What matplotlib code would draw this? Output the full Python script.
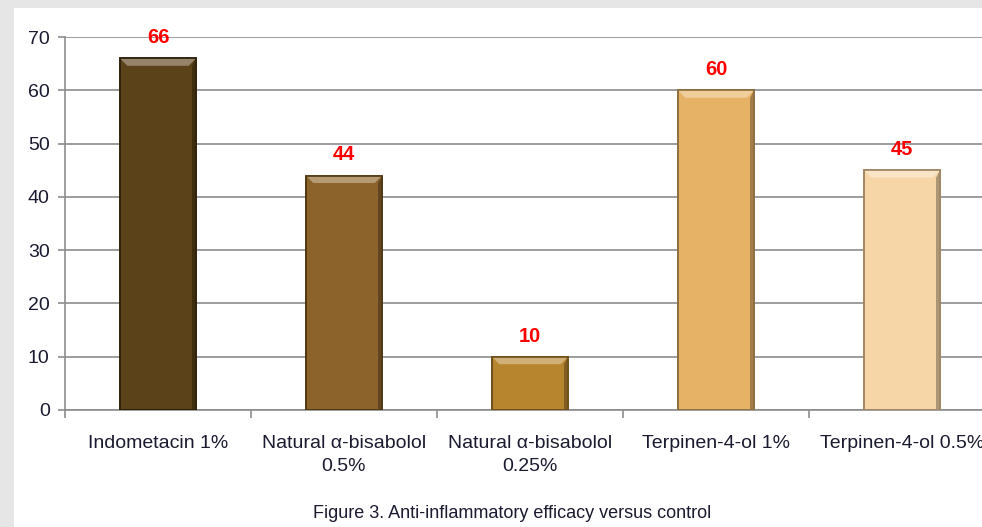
import matplotlib
matplotlib.use("Agg")
import matplotlib.pyplot as plt
from matplotlib.patches import Rectangle, Polygon
import matplotlib.colors as mcolors

categories = ["Indometacin 1%", "Natural α-bisabolol\n0.5%", "Natural α-bisabolol\n0.25%",
              "Terpinen-4-ol 1%", "Terpinen-4-ol 0.5%"]
values = [66, 44, 10, 60, 45]
colors = ["#5C4219", "#8C632B", "#B8852F", "#E6B366", "#F6D6A6"]
edges = ["#2E210B", "#4E3812", "#6E4E1A", "#8E6E40", "#A08664"]
yticks = [0, 10, 20, 30, 40, 50, 60, 70]
caption = "Figure 3. Anti-inflammatory efficacy versus control"

plt.rcParams['font.family'] = ['Liberation Sans', 'DejaVu Sans']

fig = plt.figure(figsize=(9.82, 5.27), dpi=100, facecolor="#E6E6E6")
fig.patches.append(Rectangle((14/982, 0), 1, (527-8)/527, transform=fig.transFigure,
                             facecolor="white", edgecolor="none", zorder=-10))

ax = fig.add_axes([65/982, 117/527, 930/982, (490-117)/527])
ax.set_zorder(1)
ax.set_facecolor("none")
x = list(range(len(categories)))
width = 0.41
bars = ax.bar(x, values, width=width, color=colors, edgecolor=edges, linewidth=1.2, zorder=3)

ax.set_xlim(-0.5, len(categories) - 0.5)
ax.set_ylim(0, 70)

# bevel highlight at the top of each bar
bev_y = 1.4
bev_x = 0.04
for b, c in zip(bars, colors):
    x0 = b.get_x()
    x1 = x0 + b.get_width()
    h = b.get_height()
    light = tuple(min(1, v + (1 - v) * 0.35) for v in mcolors.to_rgb(c))
    poly = Polygon([(x0, h), (x1, h), (x1 - bev_x, h - bev_y), (x0 + bev_x, h - bev_y)],
                   closed=True, facecolor=light, edgecolor="none", zorder=4)
    ax.add_patch(poly)
    dark = tuple(v * 0.7 for v in mcolors.to_rgb(c))
    side = Polygon([(x1, h), (x1, 0), (x1 - bev_x * 0.5, 0), (x1 - bev_x * 0.5, h - bev_y)],
                   closed=True, facecolor=dark, edgecolor="none", zorder=4)
    ax.add_patch(side)
    ax.add_patch(Rectangle((x0, 0), b.get_width(), h, facecolor="none",
                           edgecolor=b.get_edgecolor(), linewidth=1.2, zorder=5))

for xi, v in zip(x, values):
    ax.annotate(str(v), (xi, v), xytext=(0, 8), textcoords="offset points",
                ha="center", va="bottom", color="#FF0000", fontsize=14.5, fontweight="bold")

ax.set_yticks(yticks)
ax.set_yticklabels([str(t) for t in yticks], fontsize=14, color="#1A1A30")
ax.yaxis.grid(True, color="#8C8C8C", linewidth=1.2, zorder=0)
ax.set_axisbelow(True)

ax.set_xticks(x)
ax.set_xticklabels(categories, fontsize=14, color="#1A1A30", linespacing=1.45)
ax.tick_params(axis="x", length=0, pad=18)
ax.set_xticks([i - 0.5 for i in range(len(categories) + 1)], minor=True)
ax.tick_params(axis="x", which="minor", length=6, color="#8C8C8C", width=1.2)
ax.tick_params(axis="y", length=5, color="#8C8C8C", width=1.2, pad=6)

for s in ["top", "right"]:
    ax.spines[s].set_visible(False)
for s in ["left", "bottom"]:
    ax.spines[s].set_color("#8C8C8C")
    ax.spines[s].set_linewidth(1.2)

fig.text(512/982, 1 - 513/527, caption, ha="center", va="center", fontsize=13, color="#1A1A30")

fig.savefig("out.png", dpi=100, facecolor=fig.get_facecolor())
